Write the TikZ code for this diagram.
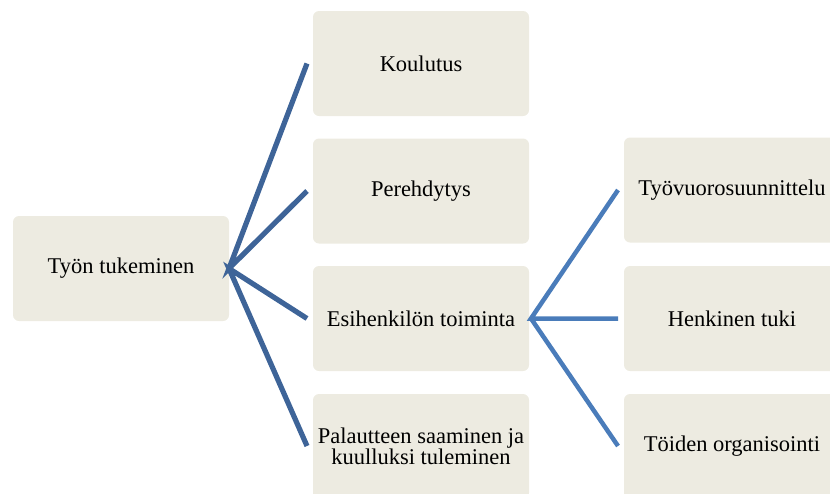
\documentclass[tikz,border=0pt]{standalone}
\usepackage{fontspec}
\setmainfont{Liberation Serif}
\definecolor{boxfill}{HTML}{EDEBE1}
\definecolor{lineA}{HTML}{3E6498}
\definecolor{lineB}{HTML}{4A7CBA}
\tikzset{
  item/.style={fill=boxfill, rounded corners=6pt, minimum width=216pt, minimum height=105pt,
    inner sep=0pt, align=center, font=\fontsize{22.5pt}{21pt}\selectfont, text=black},
  linkA/.style={draw=lineA, line width=5.2pt},
  linkB/.style={draw=lineB, line width=4.5pt}
}
\begin{document}
\begin{tikzpicture}[x=1pt,y=-1pt]
\useasboundingbox (0,0) rectangle (830,493);
\clip (0,0) rectangle (830,493);
\node[item] (root) at (121,268.5) {Työn tukeminen};
\node[item] (k) at (421,63.5) {Koulutus};
\node[item] (p) at (421,191) {Perehdytys};
\node[item] (e) at (421,318.5) {Esihenkilön toiminta};
\node[item] (f) at (421,446.5) {Palautteen saaminen ja\\kuulluksi tuleminen};
\node[item] (t) at (732,190) {Työvuorosuunnittelu};
\node[item] (h) at (732,318.5) {Henkinen tuki};
\node[item] (o) at (732,446.5) {Töiden organisointi};
\coordinate (rs) at (229,268.5);
\coordinate (ke) at (307,63.5);
\coordinate (pe) at (307,191);
\coordinate (ee) at (307,318.5);
\coordinate (fe) at (307,446);
\coordinate (es) at (531,318.5);
\coordinate (te) at (618,190);
\coordinate (he) at (618,318.5);
\coordinate (oe) at (618,446);
\draw[linkA] (ke) -- (rs) -- (pe);
\draw[linkA] (ee) -- (rs) -- (fe);
\draw[linkB] (te) -- (es) -- (he);
\draw[linkB] (es) -- (oe);
\end{tikzpicture}
\end{document}
